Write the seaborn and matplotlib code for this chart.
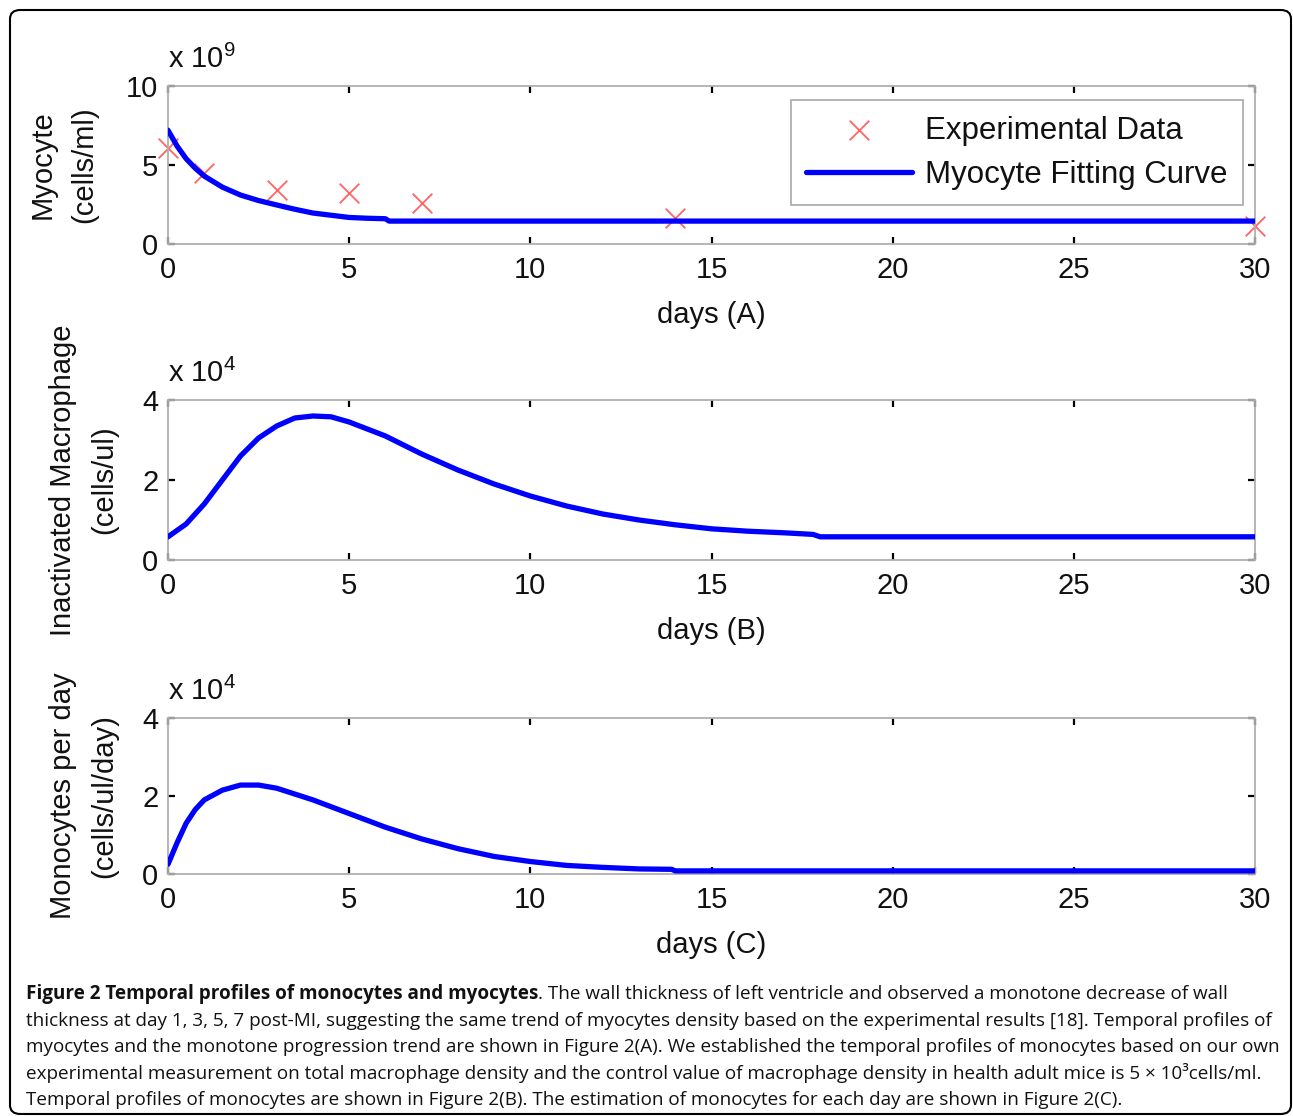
import numpy as np
import pandas as pd
import matplotlib
matplotlib.use("Agg")
import matplotlib.pyplot as plt
import seaborn as sns
from matplotlib.patches import FancyBboxPatch

# ---------------- data ----------------
exp_days = [0, 1, 3, 5, 7, 14, 30]
exp_myocyte = [6.1, 4.5, 3.4, 3.2, 2.6, 1.65, 1.15]          # x 1e9 cells/ml

fit_days = [0, 0.25, 0.5, 0.75, 1, 1.5, 2, 2.5, 3, 3.5, 4, 4.5, 5, 5.5, 6, 6.1, 10, 15, 20, 25, 30]
fit_myocyte = [7.2, 6.2, 5.4, 4.8, 4.3, 3.6, 3.1, 2.75, 2.47, 2.2, 1.96, 1.82, 1.68, 1.63, 1.6, 1.45,
               1.45, 1.45, 1.45, 1.45, 1.45]                   # x 1e9 cells/ml

mac_days = [0, 0.5, 1, 1.5, 2, 2.5, 3, 3.5, 4, 4.5, 5, 6, 7, 8, 9, 10, 11, 12, 13, 14, 15, 16, 17,
            17.8, 18, 20, 25, 30]
mac_values = [0.58, 0.9, 1.4, 2.0, 2.6, 3.05, 3.35, 3.55, 3.6, 3.58, 3.45, 3.1, 2.65, 2.25, 1.9, 1.6,
              1.35, 1.15, 1.0, 0.88, 0.78, 0.72, 0.68, 0.64, 0.58, 0.58, 0.58, 0.58]   # x 1e4 cells/ul

mono_days = [0, 0.25, 0.5, 0.75, 1, 1.5, 2, 2.5, 3, 4, 5, 6, 7, 8, 9, 10, 11, 12, 13, 13.9, 14, 20, 25, 30]
mono_values = [0.25, 0.8, 1.3, 1.65, 1.9, 2.15, 2.28, 2.28, 2.2, 1.9, 1.55, 1.2, 0.9, 0.65, 0.45, 0.32,
               0.22, 0.17, 0.13, 0.12, 0.08, 0.08, 0.08, 0.08]                          # x 1e4 cells/ul/day

x_ticks = [0, 5, 10, 15, 20, 25, 30]
yticks_a = [0, 5, 10]
yticks_bc = [0, 2, 4]

xlabels = ["days (A)", "days (B)", "days (C)"]
ylabels = ["Myocyte\n(cells/ml)", "Inactivated Macrophage\n(cells/ul)", "Monocytes per day\n(cells/ul/day)"]
exponents = ["9", "4", "4"]
legend_labels = ["Experimental Data", "Myocyte Fitting Curve"]

caption_lines = [
    [("Figure 2 Temporal profiles of monocytes and myocytes", "bold"),
     (". The wall thickness of left ventricle and observed a monotone decrease of wall", "normal")],
    [("thickness at day 1, 3, 5, 7 post-MI, suggesting the same trend of myocytes density based on the experimental results [18]. Temporal profiles of", "normal")],
    [("myocytes and the monotone progression trend are shown in Figure 2(A). We established the temporal profiles of monocytes based on our own", "normal")],
    [("experimental measurement on total macrophage density and the control value of macrophage density in health adult mice is 5 \u00d7 10\u00b3cells/ml.", "normal")],
    [("Temporal profiles of monocytes are shown in Figure 2(B). The estimation of monocytes for each day are shown in Figure 2(C).", "normal")],
]
caption_right_px = [1278, 1260, 1276, 1268, 1118]

# ---------------- style ----------------
sns.set_theme(style="white")
plt.rcParams["font.family"] = ["Liberation Sans", "DejaVu Sans"]
plt.rcParams["mathtext.fontset"] = "custom"
plt.rcParams["mathtext.rm"] = "Liberation Sans"
plt.rcParams["mathtext.default"] = "regular"

W, H = 1293, 1116
fig = plt.figure(figsize=(W / 100, H / 100), dpi=100)
fig.patch.set_facecolor("white")

# outer rounded frame
fig.patches.append(FancyBboxPatch((10 / W, 2 / H), 1281 / W, 1104 / H,
                                  boxstyle="round,pad=0,rounding_size=0.008",
                                  transform=fig.transFigure, fill=False,
                                  edgecolor="black", linewidth=1.5))

L, R = 168, 1255
panels = [(86, 244), (400, 560), (718, 874)]
TICK_FS = 21
BLUE = "#0000ff"


def px_axes(top, bottom):
    return fig.add_axes([L / W, 1 - bottom / H, (R - L) / W, (bottom - top) / H])


axes = [px_axes(t, b) for t, b in panels]

for i, ax in enumerate(axes):
    top, bottom = panels[i]
    hgt = bottom - top
    if i == 0:
        sns.scatterplot(x=exp_days, y=exp_myocyte, ax=ax, marker="x", s=200, color="#ff6464",
                        linewidth=1.3, label=legend_labels[0], zorder=2, clip_on=False)
        sns.lineplot(x=fit_days, y=fit_myocyte, ax=ax, color=BLUE, linewidth=3.8,
                     label=legend_labels[1], sort=False, estimator=None, zorder=3)
        ax.set_ylim(0, 10)
        ax.set_yticks(yticks_a)
    elif i == 1:
        sns.lineplot(x=mac_days, y=mac_values, ax=ax, color=BLUE, linewidth=3.8,
                     sort=False, estimator=None, zorder=3)
        ax.set_ylim(0, 4)
        ax.set_yticks(yticks_bc)
    else:
        sns.lineplot(x=mono_days, y=mono_values, ax=ax, color=BLUE, linewidth=3.8,
                     sort=False, estimator=None, zorder=3)
        ax.set_ylim(0, 4)
        ax.set_yticks(yticks_bc)

    ax.set_xlim(0, 30)
    ax.set_xticks(x_ticks)
    ax.tick_params(axis="both", direction="in", length=5, width=1.6, color="black",
                   top=True, right=True, bottom=True, left=True, labelsize=TICK_FS,
                   labelcolor="#111111")
    ax.tick_params(axis="x", pad=9)
    ax.tick_params(axis="y", pad=7)
    for sp in ax.spines.values():
        sp.set_color("#b0b0b0")
        sp.set_linewidth(1.3)
    ax.set_facecolor("white")

    ax.set_xlabel(xlabels[i], fontsize=TICK_FS, color="#111111")
    ax.xaxis.set_label_coords(0.5, -(57 / hgt))
    ax.xaxis.label.set_va("top")
    ax.set_ylabel(ylabels[i], fontsize=TICK_FS, color="#111111", linespacing=1.6)
    ylab_x = 98 if i == 0 else 118
    ax.yaxis.set_label_coords((ylab_x - L) / (R - L), 0.5)

    ax.annotate("x 10$^{%s}$" % exponents[i], xy=(0, 1), xycoords="axes fraction",
                xytext=(0, 13), textcoords="offset points", ha="left", va="baseline",
                fontsize=TICK_FS, color="#111111")

# legend for panel A
leg = axes[0].legend(loc="upper right", bbox_to_anchor=(0.989, 0.911), borderaxespad=0,
                     fontsize=22.5, frameon=True, fancybox=False, framealpha=1,
                     edgecolor="#a8a8a8", handlelength=3.4, handletextpad=0.4,
                     borderpad=0.5, labelspacing=0.45, markerscale=1.0)
leg.get_frame().set_linewidth(1.2)
for t in leg.get_texts():
    t.set_color("#111111")

# ---------------- caption ----------------
cap_family = ["Open Sans", "Noto Sans", "DejaVu Sans"]
fig.canvas.draw()
rend = fig.canvas.get_renderer()


def measure(parts, fs):
    total = 0
    for txt, wgt in parts:
        t = fig.text(0, 0, txt, fontsize=fs, fontweight=wgt, family=cap_family)
        total += t.get_window_extent(renderer=rend).width
        t.remove()
    return total


base_fs = 13.0
cap_fs = min(base_fs * (rpx - 26.0) / measure(parts, base_fs)
             for parts, rpx in zip(caption_lines, caption_right_px))

baselines = [999, 1026, 1052, 1079, 1105]
for parts, yb in zip(caption_lines, baselines):
    x = 26.0
    for txt, wgt in parts:
        t = fig.text(x / W, 1 - yb / H, txt, fontsize=cap_fs, fontweight=wgt,
                     family=cap_family, ha="left", va="baseline", color="#111111")
        x += t.get_window_extent(renderer=rend).width

fig.savefig("out.png", dpi=100, facecolor="white")
